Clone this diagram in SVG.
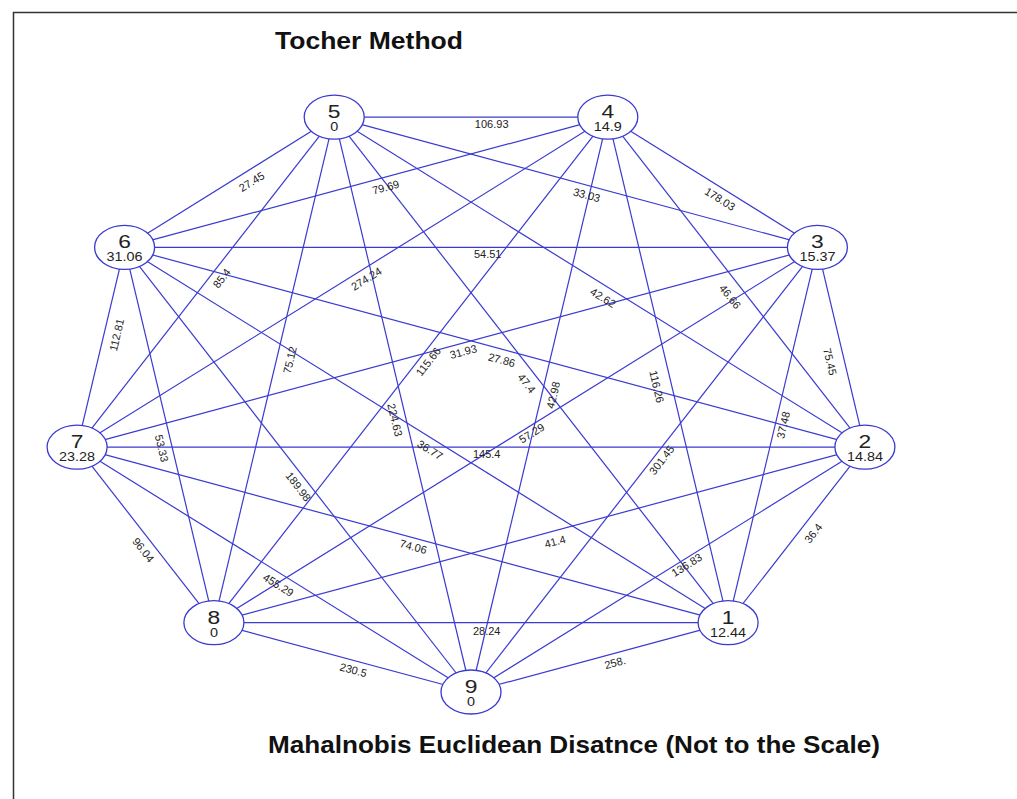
<svg xmlns="http://www.w3.org/2000/svg" width="1017" height="799" viewBox="0 0 1017 799">
<style>
.e{stroke:#3a3ad0;stroke-width:1.2;fill:none}
.n{stroke:#3a3ad0;stroke-width:1.3;fill:#ffffff}
.lb{font-family:"Liberation Sans",Arial,sans-serif;font-size:11px;fill:#222;text-anchor:middle}
.big{font-family:"Liberation Sans",Arial,sans-serif;font-size:19px;fill:#222;text-anchor:middle}
.sm{font-family:"Liberation Sans",Arial,sans-serif;font-size:12px;fill:#222;text-anchor:middle}
.t{font-family:"Liberation Sans",Arial,sans-serif;font-weight:bold;fill:#111}
</style>
<rect x="0" y="0" width="1017" height="799" fill="#ffffff"/>
<path d="M13.5,799 V12.5 H1017" stroke="#333" stroke-width="1.5" fill="none"/>
<text class="t" x="275" y="48.5" font-size="24" textLength="188" lengthAdjust="spacingAndGlyphs">Tocher Method</text>
<g id="connectors">
<line class="e" x1="728.1" y1="622.7" x2="864.9" y2="447.1"/>
<line class="e" x1="728.1" y1="622.7" x2="817.4" y2="247.4"/>
<line class="e" x1="728.1" y1="622.7" x2="607.8" y2="117.1"/>
<line class="e" x1="728.1" y1="622.7" x2="334.2" y2="117.1"/>
<line class="e" x1="728.1" y1="622.7" x2="124.6" y2="247.4"/>
<line class="e" x1="728.1" y1="622.7" x2="77.1" y2="447.1"/>
<line class="e" x1="728.1" y1="622.7" x2="213.9" y2="622.7"/>
<line class="e" x1="728.1" y1="622.7" x2="471" y2="692"/>
<line class="e" x1="864.9" y1="447.1" x2="817.4" y2="247.4"/>
<line class="e" x1="864.9" y1="447.1" x2="607.8" y2="117.1"/>
<line class="e" x1="864.9" y1="447.1" x2="334.2" y2="117.1"/>
<line class="e" x1="864.9" y1="447.1" x2="124.6" y2="247.4"/>
<line class="e" x1="864.9" y1="447.1" x2="77.1" y2="447.1"/>
<line class="e" x1="864.9" y1="447.1" x2="213.9" y2="622.7"/>
<line class="e" x1="864.9" y1="447.1" x2="471" y2="692"/>
<line class="e" x1="817.4" y1="247.4" x2="607.8" y2="117.1"/>
<line class="e" x1="817.4" y1="247.4" x2="334.2" y2="117.1"/>
<line class="e" x1="817.4" y1="247.4" x2="124.6" y2="247.4"/>
<line class="e" x1="817.4" y1="247.4" x2="77.1" y2="447.1"/>
<line class="e" x1="817.4" y1="247.4" x2="213.9" y2="622.7"/>
<line class="e" x1="817.4" y1="247.4" x2="471" y2="692"/>
<line class="e" x1="607.8" y1="117.1" x2="334.2" y2="117.1"/>
<line class="e" x1="607.8" y1="117.1" x2="124.6" y2="247.4"/>
<line class="e" x1="607.8" y1="117.1" x2="77.1" y2="447.1"/>
<line class="e" x1="607.8" y1="117.1" x2="213.9" y2="622.7"/>
<line class="e" x1="607.8" y1="117.1" x2="471" y2="692"/>
<line class="e" x1="334.2" y1="117.1" x2="124.6" y2="247.4"/>
<line class="e" x1="334.2" y1="117.1" x2="77.1" y2="447.1"/>
<line class="e" x1="334.2" y1="117.1" x2="213.9" y2="622.7"/>
<line class="e" x1="334.2" y1="117.1" x2="471" y2="692"/>
<line class="e" x1="124.6" y1="247.4" x2="77.1" y2="447.1"/>
<line class="e" x1="124.6" y1="247.4" x2="213.9" y2="622.7"/>
<line class="e" x1="124.6" y1="247.4" x2="471" y2="692"/>
<line class="e" x1="77.1" y1="447.1" x2="213.9" y2="622.7"/>
<line class="e" x1="77.1" y1="447.1" x2="471" y2="692"/>
<line class="e" x1="213.9" y1="622.7" x2="471" y2="692"/>
</g>
<g id="edge-labels">
<text class="lb" transform="translate(491.7,124.3)" dy="0.35em">106.93</text>
<text class="lb" transform="translate(251.7,181.7) rotate(-31.9)" dy="0.35em">27.45</text>
<text class="lb" transform="translate(385.7,187.3) rotate(-15.1)" dy="0.35em">79.69</text>
<text class="lb" transform="translate(586.7,195) rotate(15.1)" dy="0.35em">33.03</text>
<text class="lb" transform="translate(720,199) rotate(31.9)" dy="0.35em">178.03</text>
<text class="lb" transform="translate(487.7,254.5)" dy="0.35em">54.51</text>
<text class="lb" transform="translate(221.7,278.3) rotate(-52.1)" dy="0.35em">85.4</text>
<text class="lb" transform="translate(366.4,278.9) rotate(-31.9)" dy="0.35em">274.24</text>
<text class="lb" transform="translate(603,297.7) rotate(31.9)" dy="0.35em">42.62</text>
<text class="lb" transform="translate(730,296.7) rotate(52.1)" dy="0.35em">46.66</text>
<text class="lb" transform="translate(116.7,335) rotate(-76.6)" dy="0.35em">112.81</text>
<text class="lb" transform="translate(290,360) rotate(-76.7)" dy="0.35em">75.12</text>
<text class="lb" transform="translate(830,361.7) rotate(76.6)" dy="0.35em">75.45</text>
<text class="lb" transform="translate(428.3,361.7) rotate(-52.1)" dy="0.35em">115.66</text>
<text class="lb" transform="translate(463.3,351.7) rotate(-15.1)" dy="0.35em">31.93</text>
<text class="lb" transform="translate(501.7,360) rotate(15.1)" dy="0.35em">27.86</text>
<text class="lb" transform="translate(526.7,383.3) rotate(52.1)" dy="0.35em">47.4</text>
<text class="lb" transform="translate(553.3,395) rotate(-76.6)" dy="0.35em">42.98</text>
<text class="lb" transform="translate(656.7,386.7) rotate(76.7)" dy="0.35em">116.26</text>
<text class="lb" transform="translate(395,420) rotate(76.6)" dy="0.35em">224.63</text>
<text class="lb" transform="translate(430,450) rotate(31.9)" dy="0.35em">36.77</text>
<text class="lb" transform="translate(486.7,454)" dy="0.35em">145.4</text>
<text class="lb" transform="translate(531.7,433.3) rotate(-31.9)" dy="0.35em">57.29</text>
<text class="lb" transform="translate(161.7,448.3) rotate(76.7)" dy="0.35em">53.33</text>
<text class="lb" transform="translate(298.3,486.7) rotate(52.1)" dy="0.35em">189.98</text>
<text class="lb" transform="translate(661.7,460) rotate(-52.1)" dy="0.35em">301.45</text>
<text class="lb" transform="translate(783.3,425) rotate(-76.7)" dy="0.35em">37.48</text>
<text class="lb" transform="translate(143.3,550) rotate(52.1)" dy="0.35em">96.04</text>
<text class="lb" transform="translate(413.3,546.7) rotate(15.1)" dy="0.35em">74.06</text>
<text class="lb" transform="translate(555,541.7) rotate(-15.1)" dy="0.35em">41.4</text>
<text class="lb" transform="translate(813.3,533.3) rotate(-52.1)" dy="0.35em">36.4</text>
<text class="lb" transform="translate(686.7,565) rotate(-31.9)" dy="0.35em">136.83</text>
<text class="lb" transform="translate(278.3,585) rotate(31.9)" dy="0.35em">455.29</text>
<text class="lb" transform="translate(486.7,630.7)" dy="0.35em">28.24</text>
<text class="lb" transform="translate(353.3,670) rotate(15.1)" dy="0.35em">230.5</text>
<text class="lb" transform="translate(615,662.7) rotate(-15.1)" dy="0.35em">258.</text>
</g>
<g id="node-1" transform="translate(728.1,622.7)"><ellipse class="n" rx="30" ry="22"/><text class="big" y="1" transform="scale(1.2,1)">1</text><text class="sm" y="14" transform="scale(1.2,1)">12.44</text></g>
<g id="node-2" transform="translate(864.9,447.1)"><ellipse class="n" rx="30" ry="22"/><text class="big" y="1" transform="scale(1.2,1)">2</text><text class="sm" y="14" transform="scale(1.2,1)">14.84</text></g>
<g id="node-3" transform="translate(817.4,247.4)"><ellipse class="n" rx="30" ry="22"/><text class="big" y="1" transform="scale(1.2,1)">3</text><text class="sm" y="14" transform="scale(1.2,1)">15.37</text></g>
<g id="node-4" transform="translate(607.8,117.1)"><ellipse class="n" rx="30" ry="22"/><text class="big" y="1" transform="scale(1.2,1)">4</text><text class="sm" y="14" transform="scale(1.2,1)">14.9</text></g>
<g id="node-5" transform="translate(334.2,117.1)"><ellipse class="n" rx="30" ry="22"/><text class="big" y="1" transform="scale(1.2,1)">5</text><text class="sm" y="14" transform="scale(1.2,1)">0</text></g>
<g id="node-6" transform="translate(124.6,247.4)"><ellipse class="n" rx="30" ry="22"/><text class="big" y="1" transform="scale(1.2,1)">6</text><text class="sm" y="14" transform="scale(1.2,1)">31.06</text></g>
<g id="node-7" transform="translate(77.1,447.1)"><ellipse class="n" rx="30" ry="22"/><text class="big" y="1" transform="scale(1.2,1)">7</text><text class="sm" y="14" transform="scale(1.2,1)">23.28</text></g>
<g id="node-8" transform="translate(213.9,622.7)"><ellipse class="n" rx="30" ry="22"/><text class="big" y="1" transform="scale(1.2,1)">8</text><text class="sm" y="14" transform="scale(1.2,1)">0</text></g>
<g id="node-9" transform="translate(471,692)"><ellipse class="n" rx="30" ry="22"/><text class="big" y="1" transform="scale(1.2,1)">9</text><text class="sm" y="14" transform="scale(1.2,1)">0</text></g>
<text class="t" x="268" y="753" font-size="24" textLength="612" lengthAdjust="spacingAndGlyphs">Mahalnobis Euclidean Disatnce (Not to the Scale)</text>
</svg>
